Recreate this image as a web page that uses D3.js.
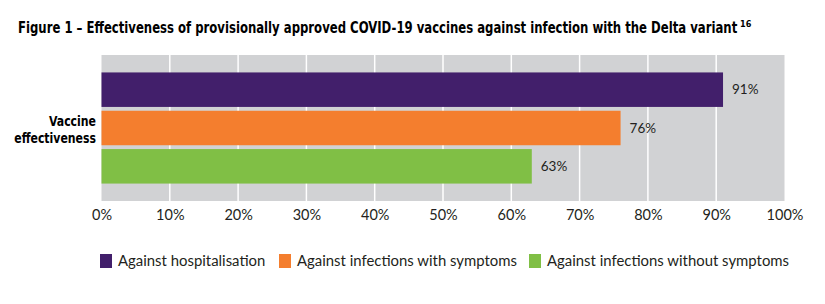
<!DOCTYPE html>
<html><head><meta charset="utf-8">
<script src="https://cdn.jsdelivr.net/npm/d3@7/dist/d3.min.js"></script>
<style>body{margin:0;background:#fff}svg{display:block}</style>
</head><body>
<svg id="c" width="825" height="304"></svg>
<script>
const series = ["Against hospitalisation","Against infections with symptoms","Against infections without symptoms"];
const values = [91, 76, 63];
const colors = ["#421f6b","#f47e2e","#80bf45"];
const ticks = [0,10,20,30,40,50,60,70,80,90,100];
const categoryLines = ["Vaccine","effectiveness"];
const titleText = "Figure 1 – Effectiveness of provisionally approved COVID-19 vaccines against infection with the Delta variant";
const titleNote = "16";

const svg = d3.select("#c");
const bodyFont = "Lato, 'Noto Sans', sans-serif";
const condFont = "'DejaVu Sans Condensed','Liberation Sans Narrow',sans-serif";
const x = d3.scaleLinear().domain([0,100]).range([101.5,784.5]);
const y = d3.scaleBand().domain(series).range([55,201]).paddingInner(0.1).paddingOuter(0.455);

// title (horizontally condensed to mimic a narrow bold face)
const tg = svg.append("g");
const tt = tg.append("text").attr("x",0).attr("y",33)
  .attr("font-family",condFont).attr("font-weight","bold").attr("font-size",15).attr("fill","#000")
  .text(titleText);
const tw = tt.node().getComputedTextLength();
const ts = 720/tw;
tg.attr("transform",`translate(18,0) scale(${ts},1)`);
svg.append("text").attr("x",18+720+2).attr("y",27)
  .attr("font-family",condFont).attr("font-weight","bold").attr("font-size",9).attr("fill","#000").text(titleNote);

// background
svg.append("rect").attr("x",x(0)).attr("y",55).attr("width",x(100)-x(0)).attr("height",146).attr("fill","#d1d2d4");
// gridlines
svg.append("g").selectAll("line").data(ticks.slice(1,-1)).join("line")
  .attr("x1",d=>x(d)).attr("x2",d=>x(d)).attr("y1",55).attr("y2",201)
  .attr("stroke","#fff").attr("stroke-width",1.5);

// bars
svg.append("g").selectAll("rect").data(series).join("rect")
  .attr("x",x(0)).attr("y",d=>y(d)).attr("height",y.bandwidth())
  .attr("width",(d,i)=>x(values[i])-x(0)).attr("fill",(d,i)=>colors[i]);
// value labels
svg.append("g").selectAll("text").data(series).join("text")
  .attr("x",(d,i)=>x(values[i])+9).attr("y",d=>y(d)+y.bandwidth()/2).attr("dy","0.35em")
  .attr("font-family",bodyFont).attr("font-size",13.5).attr("fill","#231f20")
  .text((d,i)=>values[i]+"%");

// x axis
const ax = svg.append("g").attr("transform","translate(0,201)")
  .call(d3.axisBottom(x).tickValues(ticks).tickFormat(d=>d+"%").tickSize(0).tickPadding(9));
ax.select(".domain").remove();
ax.selectAll("text").attr("font-family",bodyFont).attr("font-size",14.5).attr("fill","#231f20");

// category label
const cg = svg.append("g");
const cl = cg.append("text").attr("text-anchor","end")
  .attr("font-family",condFont).attr("font-weight","bold").attr("font-size",14.5).attr("fill","#000");
categoryLines.forEach((s,i)=>cl.append("tspan").attr("x",0).attr("y",126+i*17).text(s));
const cw = cl.node().getBBox().width;
cg.attr("transform",`translate(96,0) scale(${82/cw},1)`);

// legend
const legX = [100,279,529];
const lg = svg.append("g").selectAll("g").data(series).join("g")
  .attr("transform",(d,i)=>`translate(${legX[i]},254)`);
lg.append("rect").attr("width",12).attr("height",14).attr("fill",(d,i)=>colors[i]);
lg.append("text").attr("x",18).attr("y",7).attr("dy","0.35em")
  .attr("font-family",bodyFont).attr("font-size",14.9).attr("fill","#231f20").text(d=>d);
</script>
</body></html>
